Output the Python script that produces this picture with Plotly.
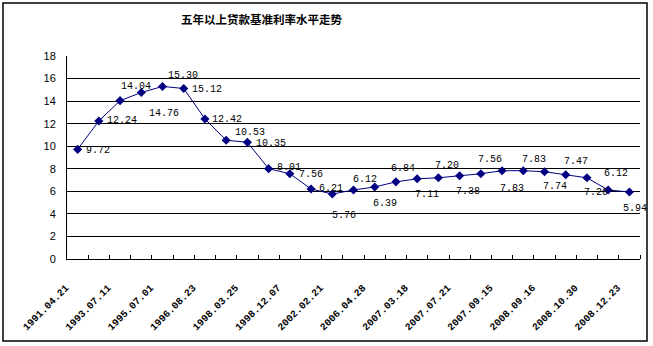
import plotly.graph_objects as go

# ---- data ----
tick_labels = ["1991.04.21", "1993.07.11", "1995.07.01", "1996.08.23", "1998.03.25",
               "1998.12.07", "2002.02.21", "2006.04.28", "2007.03.18", "2007.07.21",
               "2007.09.15", "2008.09.16", "2008.10.30", "2008.12.23"]
rates = [9.72, 12.24, 14.04, 14.76, 15.30, 15.12, 12.42, 10.53, 10.35, 8.01,
         7.56, 6.21, 5.76, 6.12, 6.39, 6.84, 7.11, 7.20, 7.38, 7.56,
         7.83, 7.83, 7.74, 7.47, 7.20, 6.12, 5.94]
title_text = "五年以上贷款基准利率水平走势"

# label pixel offsets (style only)
label_dx = [20.5, 23, 15.5, 23, 20, 23, 22.5, 23.5, 23.5, 20, 21, 20, 12, 11, 10,
            7, 10, 9, 8, 9, 10, 10.6, 10, 10, 9.5, 8, 6]
label_dy = [1, 0, -14, 21, -11, 1.5, 1, -8, 1.5, -1, 1, 0, 21, -10, 16.5,
            -13.5, 16, -12, 16, -14.7, 17.6, -11.4, 15, -13, 15, -16.7, 16]

x = list(range(len(rates)))
navy = "#000080"

fig = go.Figure()
fig.add_trace(go.Scatter(
    x=x, y=rates, mode="lines+markers",
    line=dict(color=navy, width=1),
    marker=dict(symbol="diamond", size=7, color=navy),
    cliponaxis=False, hoverinfo="skip",
))

annotations = []
for xi, v, dx, dy in zip(x, rates, label_dx, label_dy):
    annotations.append(dict(
        x=xi, y=v, xref="x", yref="y", text=f"{v:.2f}", showarrow=False,
        xanchor="center", yanchor="middle", xshift=dx, yshift=-dy,
        font=dict(family="Liberation Mono", size=10, color="black"),
    ))

L, R, T, B = 67, 13, 56, 87
W, H = 653, 346
pw, ph = W - L - R, H - T - B


def px_x(p):
    return (p - L) / pw


def px_y(p):
    return (H - B - p) / ph


annotations.append(dict(
    x=px_x(261.5), y=px_y(19.5), xref="paper", yref="paper", text=f"<b>{title_text}</b>",
    showarrow=False, xanchor="center", yanchor="middle",
    font=dict(family="Noto Sans CJK SC", size=11.5, color="black"),
))

fig.update_layout(
    width=W, height=H,
    margin=dict(l=L, r=R, t=T, b=B, pad=0, autoexpand=False),
    plot_bgcolor="white", paper_bgcolor="white",
    showlegend=False,
    annotations=annotations,
    shapes=[dict(type="rect", xref="paper", yref="paper",
                 x0=px_x(3), x1=px_x(647), y0=px_y(341), y1=px_y(3),
                 line=dict(color="black", width=1.5), layer="above")],
    xaxis=dict(
        range=[-0.5, len(rates) - 0.5], tickmode="array",
        tickvals=x[::2], ticktext=tick_labels, tickangle=-45,
        ticks="", showgrid=False, zeroline=False, automargin=False,
        showline=True, linecolor="black", linewidth=1,
        tickfont=dict(family="Liberation Mono", size=10, color="black", weight="bold"),
        ticklabelstandoff=18, ticklabelshift=-12,
        minor=dict(tickmode="array", tickvals=[i + 0.5 for i in x],
                   ticks="inside", ticklen=4, tickcolor="black", tickwidth=1,
                   showgrid=False),
    ),
    yaxis=dict(
        range=[0, 18], dtick=2, tick0=0, automargin=False,
        showgrid=True, gridcolor="black", gridwidth=1,
        zeroline=False, showline=True, linecolor="black", linewidth=1,
        ticks="", ticklabelstandoff=8,
        tickfont=dict(family="Liberation Sans", size=11, color="black"),
    ),
)

fig.write_html("out.html")
